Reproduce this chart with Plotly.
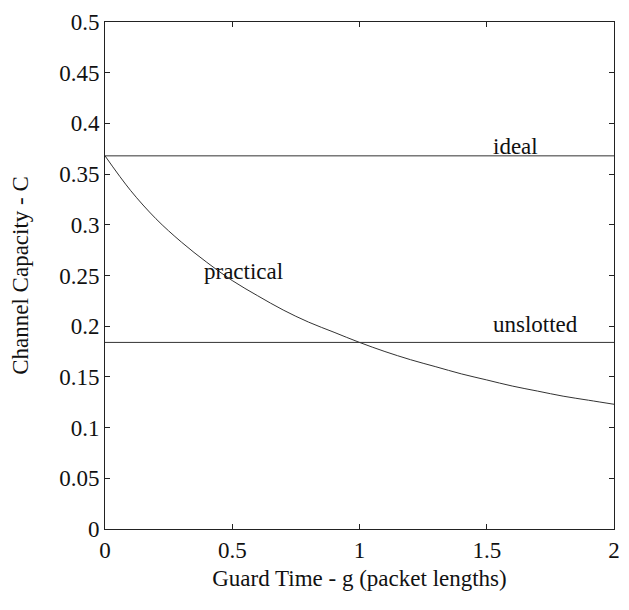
import plotly.graph_objects as go

# Data
guard_time = [0.0, 0.1, 0.2, 0.3, 0.4, 0.5, 0.6, 0.7, 0.8, 0.9, 1.0,
              1.1, 1.2, 1.3, 1.4, 1.5, 1.6, 1.7, 1.8, 1.9, 2.0]
practical = [0.368, 0.334, 0.306, 0.283, 0.263, 0.245, 0.230, 0.216, 0.204, 0.194, 0.184,
             0.175, 0.167, 0.160, 0.153, 0.147, 0.141, 0.136, 0.131, 0.127, 0.123]
ideal_x = [0.0, 2.0]
ideal_y = [0.368, 0.368]
unslotted_x = [0.0, 2.0]
unslotted_y = [0.184, 0.184]

x_ticks = [0, 0.5, 1, 1.5, 2]
x_tick_labels = ["0", "0.5", "1", "1.5", "2"]
y_ticks = [0, 0.05, 0.1, 0.15, 0.2, 0.25, 0.3, 0.35, 0.4, 0.45, 0.5]
y_tick_labels = ["0", "0.05", "0.1", "0.15", "0.2", "0.25", "0.3", "0.35", "0.4", "0.45", "0.5"]

font = "Liberation Serif"
fsize = 23
ink = "#111111"
line_style = dict(color="#333333", width=1)

fig = go.Figure()
fig.add_trace(go.Scatter(x=ideal_x, y=ideal_y, mode="lines", line=line_style, showlegend=False))
fig.add_trace(go.Scatter(x=unslotted_x, y=unslotted_y, mode="lines", line=line_style, showlegend=False))
fig.add_trace(go.Scatter(x=guard_time, y=practical, mode="lines",
                         line=dict(color="#333333", width=1, shape="spline"), showlegend=False))

fig.add_annotation(x=1.611, y=0.368, text="ideal", showarrow=False, yanchor="bottom", yshift=-5,
                   font=dict(family=font, size=fsize, color=ink))
fig.add_annotation(x=1.692, y=0.184, text="unslotted", showarrow=False, yanchor="bottom", yshift=3,
                   font=dict(family=font, size=fsize, color=ink))
fig.add_annotation(x=0.546, y=0.254, text="practical", showarrow=False, yanchor="middle",
                   font=dict(family=font, size=fsize, color=ink))

axis_common = dict(showgrid=False, zeroline=False, showline=True, linecolor="#222222", linewidth=1,
                   mirror="ticks", ticks="inside", ticklen=5, tickcolor="#222222",
                   ticklabeloverflow="allow", automargin=False,
                   tickfont=dict(family=font, size=fsize, color=ink))

fig.update_xaxes(range=[0, 2], tickvals=x_ticks, ticktext=x_tick_labels,
                 title=dict(text="Guard Time - g (packet lengths)",
                            font=dict(family=font, size=fsize, color=ink), standoff=8),
                 **axis_common)
fig.update_yaxes(range=[0, 0.5], tickvals=y_ticks, ticktext=y_tick_labels,
                 title=dict(text="Channel Capacity - C",
                            font=dict(family=font, size=fsize, color=ink), standoff=24),
                 **axis_common)

fig.update_layout(width=621, height=602, paper_bgcolor="white", plot_bgcolor="white",
                  margin=dict(l=97, r=15, t=14, b=81), showlegend=False)

fig.write_html("out.html")
